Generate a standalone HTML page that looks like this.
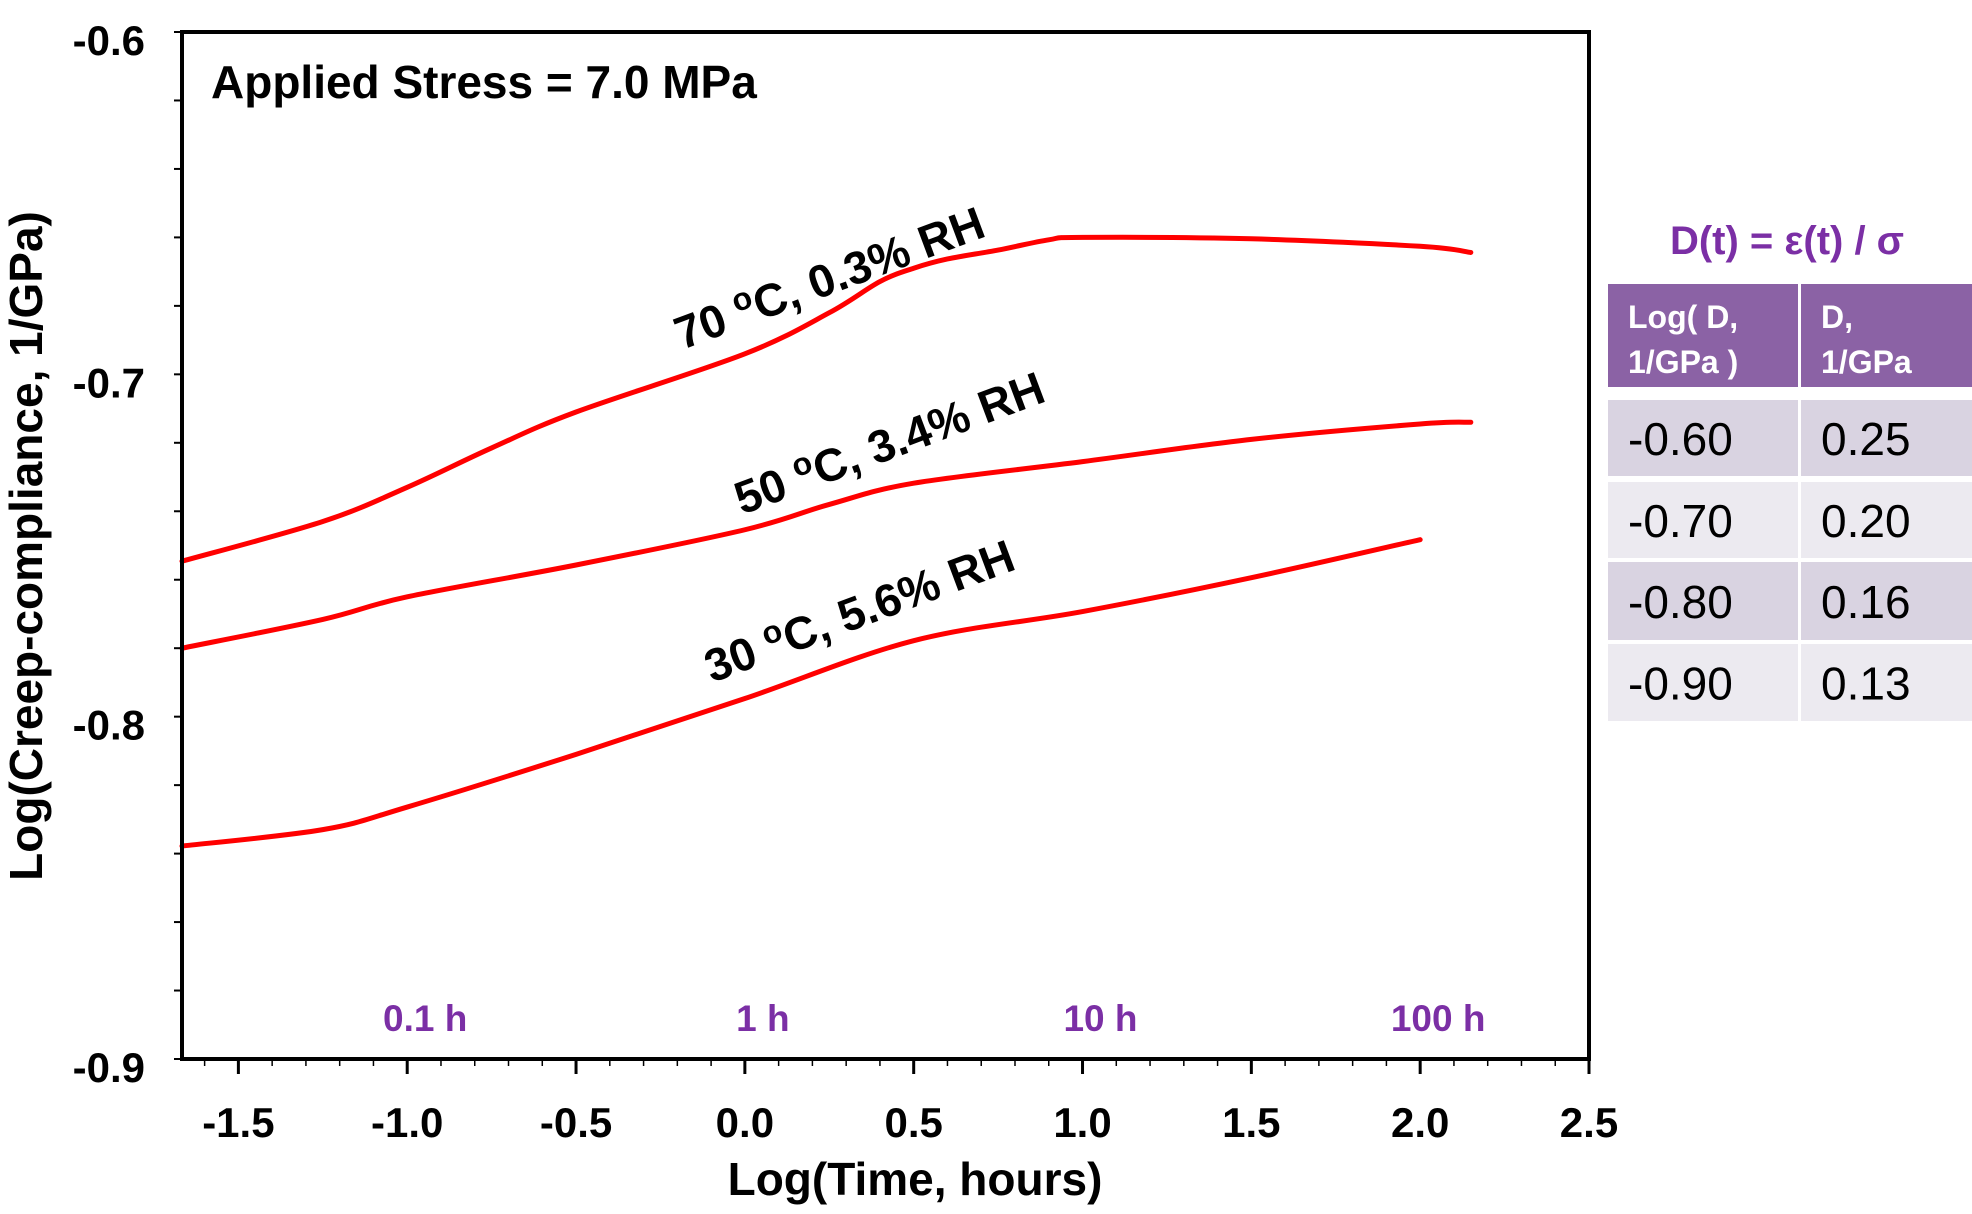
<!DOCTYPE html>
<html><head><meta charset="utf-8"><style>
html,body{margin:0;padding:0;background:#fff;}
svg{display:block;}
text{font-family:"Liberation Sans",Arial,sans-serif;}
</style></head><body>
<svg id="chart" width="1972" height="1214" viewBox="0 0 1972 1214" xmlns="http://www.w3.org/2000/svg">
<rect x="0" y="0" width="1972" height="1214" fill="#fff"/>
<g id="marks"></g>
<rect x="182" y="32" width="1407" height="1027" fill="none" stroke="#000" stroke-width="4"/>
<text x="211" y="98" font-size="46" font-weight="bold">Applied Stress = 7.0 MPa</text>
<text x="915" y="1195" font-size="46" font-weight="bold" text-anchor="middle">Log(Time, hours)</text>
<text transform="translate(42,546) rotate(-90)" font-size="46" font-weight="bold" text-anchor="middle">Log(Creep-compliance, 1/GPa)</text>
<g id="axes"></g>
<g id="labels"></g>

<text x="1787" y="254" font-size="40" font-weight="bold" fill="#7B2FA5" text-anchor="middle">D(t) = ε(t) / σ</text>
<g>
<rect x="1608" y="284" width="190" height="103" fill="#8B62A5"/>
<rect x="1801" y="284" width="171" height="103" fill="#8B62A5"/>
<text x="1628" y="328" font-size="32" font-weight="bold" fill="#fff">Log( D,</text>
<text x="1628" y="373" font-size="32" font-weight="bold" fill="#fff">1/GPa )</text>
<text x="1821" y="328" font-size="32" font-weight="bold" fill="#fff">D,</text>
<text x="1821" y="373" font-size="32" font-weight="bold" fill="#fff">1/GPa</text>
<g id="rows"></g>
</g>
</svg>
<script>
const xs70 = [-1.667,-1.25,-1.0,-0.75,-0.5,0.0,0.25,0.4,0.5,0.6,0.75,0.9,1.0,1.5,2.0,2.15];
const ys70 = [-0.7546,-0.743,-0.733,-0.7215,-0.711,-0.694,-0.682,-0.6729,-0.669,-0.6663,-0.6637,-0.6607,-0.660,-0.6604,-0.6626,-0.6644];
const xs50 = [-1.667,-1.25,-1.0,-0.5,0.0,0.25,0.5,1.0,1.5,2.0,2.15];
const ys50 = [-0.780,-0.7716,-0.765,-0.7557,-0.7454,-0.738,-0.7318,-0.7255,-0.719,-0.7145,-0.714];
const xs30 = [-1.667,-1.25,-1.0,-0.5,0.0,0.5,1.0,1.5,2.0];
const ys30 = [-0.8378,-0.833,-0.8264,-0.811,-0.7947,-0.7778,-0.7693,-0.7594,-0.7483];
const xTicks = [-1.5,-1.0,-0.5,0.0,0.5,1.0,1.5,2.0,2.5];
const xTickLabels = ["-1.5","-1.0","-0.5","0.0","0.5","1.0","1.5","2.0","2.5"];
const yTicks = [-0.6,-0.7,-0.8,-0.9];
const yTickLabels = ["-0.6","-0.7","-0.8","-0.9"];
const hourPos = [-1,0,1,2];
const hourLabels = ["0.1 h","1 h","10 h","100 h"];
const tableLog = ["-0.60","-0.70","-0.80","-0.90"];
const tableD = ["0.25","0.20","0.16","0.13"];

const NS="http://www.w3.org/2000/svg";
const X0=182,X1=1589,Y0=32,Y1=1059,XMIN=-1.667,XMAX=2.5,YMIN=-0.9,YMAX=-0.6;
function sx(v){return X0+(v-XMIN)/(XMAX-XMIN)*(X1-X0);}
function sy(v){return Y1-(v-YMIN)/(YMAX-YMIN)*(Y1-Y0);}
function mk(tag,attrs,parent){const e=document.createElementNS(NS,tag);for(const k in attrs)e.setAttribute(k,attrs[k]);parent.appendChild(e);return e;}
const marks=document.getElementById('marks'),axes=document.getElementById('axes'),labels=document.getElementById('labels'),rows=document.getElementById('rows');

function smoothPath(xs,ys){
  const p=xs.map((x,i)=>[sx(x),sy(ys[i])]);
  let d="M"+p[0][0]+","+p[0][1];
  for(let i=0;i<p.length-1;i++){
    const p0=p[i-1]||p[i],p1=p[i],p2=p[i+1],p3=p[i+2]||p2;
    const c1=[p1[0]+(p2[0]-p0[0])/6,p1[1]+(p2[1]-p0[1])/6];
    const c2=[p2[0]-(p3[0]-p1[0])/6,p2[1]-(p3[1]-p1[1])/6];
    d+=" C"+c1[0]+","+c1[1]+" "+c2[0]+","+c2[1]+" "+p2[0]+","+p2[1];
  }
  return d;
}
[[xs70,ys70,'curve-70c'],[xs50,ys50,'curve-50c'],[xs30,ys30,'curve-30c']].forEach(s=>{
  const e=mk('path',{d:smoothPath(s[0],s[1]),fill:'none',stroke:'#FF0000','stroke-width':5,'stroke-linecap':'round'},marks);
  
  
});

for(let k=-16;k<=25;k++){
  const v=k/10; if(v<XMIN) continue;
  const major=(k%5===0);
  const e=mk('line',{x1:sx(v),x2:sx(v),y1:Y1,y2:Y1+(major?15:7),stroke:'#000','stroke-width':major?3:1.5},axes);
  
  
}
xTicks.forEach((v,i)=>{
  const t=mk('text',{x:sx(v),y:1137,'font-size':42,'font-weight':'bold','text-anchor':'middle'},axes);
  t.textContent=xTickLabels[i];
  
  
});
for(let k=0;k<=15;k++){
  const v=-0.6-k*0.02;
  const e=mk('line',{x1:X0-8,x2:X0,y1:sy(v),y2:sy(v),stroke:'#000','stroke-width':2},axes);
  
  
}
yTicks.forEach((v,i)=>{
  const t=mk('text',{x:145,y:sy(v)+23,'font-size':42,'font-weight':'bold','text-anchor':'end'},axes);
  t.textContent=yTickLabels[i];
  
  
});
hourPos.forEach((v,i)=>{
  const t=mk('text',{x:sx(v)+18,y:1031,'font-size':37,'font-weight':'bold','text-anchor':'middle',fill:'#7B2FA5'},labels);
  t.textContent=hourLabels[i];
  
  
});
[[682,350,'70','0.3','label-70c'],[742,515,'50','3.4','label-50c'],[712,683,'30','5.6','label-30c']].forEach(c=>{
  const t=mk('text',{x:c[0],y:c[1],'font-size':46,'font-weight':'bold',transform:'rotate(-20.5 '+c[0]+' '+c[1]+')'},labels);
  
  
  const a=mk('tspan',{},t);a.textContent=c[2]+' ';
  const b=mk('tspan',{dy:-16,'font-size':32},t);b.textContent='o';
  const d=mk('tspan',{dy:16},t);d.textContent='C, '+c[3]+'% RH';
});
const rowY=[400,482,562,644],rowH=[76,76,78,77];
tableLog.forEach((v,i)=>{
  const fill=i%2===0?'#D9D3E1':'#ECEAF0';
  const r1=mk('rect',{x:1608,y:rowY[i],width:190,height:rowH[i],fill:fill},rows);
  
  
  const r2=mk('rect',{x:1801,y:rowY[i],width:171,height:rowH[i],fill:fill},rows);
  
  
  const t1=mk('text',{x:1628,y:rowY[i]+rowH[i]/2+17,'font-size':46},rows);
  t1.textContent=v;
  
  
  const t2=mk('text',{x:1821,y:rowY[i]+rowH[i]/2+17,'font-size':46},rows);
  t2.textContent=tableD[i];
  
  
});
</script>
</body></html>
